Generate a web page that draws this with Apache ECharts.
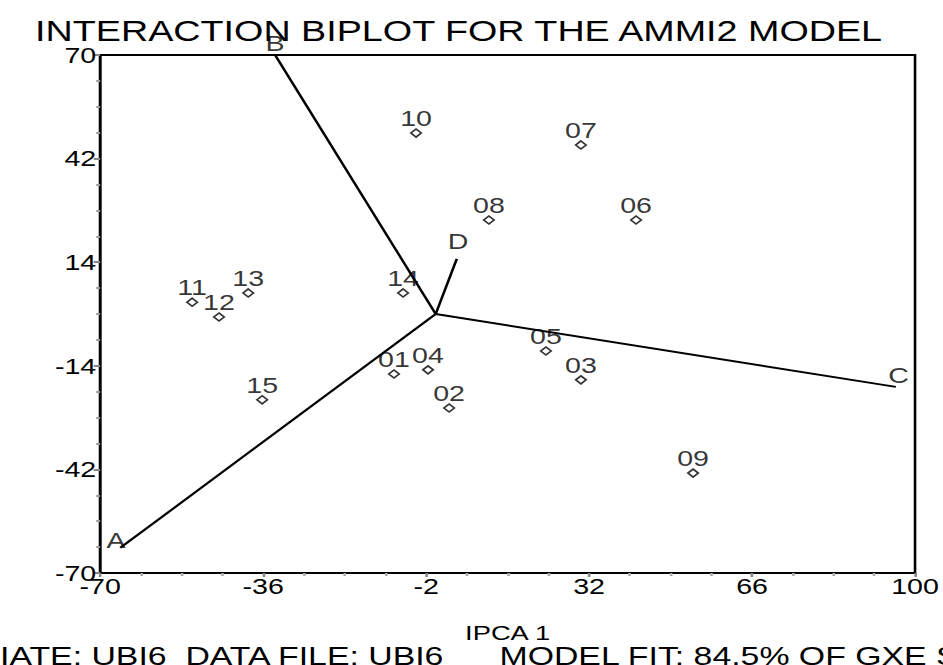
<!DOCTYPE html>
<html><head><meta charset="utf-8">
<script src="https://cdn.jsdelivr.net/npm/echarts@6/dist/echarts.min.js"></script>
<style>
html,body{margin:0;padding:0;background:#fff;overflow:hidden;width:943px;height:665px}
#c{width:725px;height:665px;transform:scaleX(1.30069);transform-origin:0 0}
</style>
</head><body><div id="c"></div>
<script>
// Genotypes (IPCA1, IPCA2)
const genoNames = ['01','02','03','04','05','06','07','08','09','10','11','12','13','14','15'];
const genoX = [-8.7, 2.8, 30.3, -1.6, 23.0, 41.8, 30.3, 11.1, 53.7, -4.1, -50.8, -45.2, -39.1, -6.8, -36.2];
const genoY = [-16.2, -25.4, -17.8, -15.1, -10.0, 25.4, 45.7, 25.4, -43.0, 48.9, 3.2, -0.8, 5.7, 5.7, -23.2];
// Environments (vector end points)
const envNames = ['A','B','C','D'];
const envX = [-65.8, -33.5, 96.0, 4.4];
const envY = [-63.2, 70.0, -19.7, 14.9];
// Axis ticks
const xTicks = [-70, -36, -2, 32, 66, 100];
const yTicks = [-70, -42, -14, 14, 42, 70];
// Texts
const titleText = 'INTERACTION BIPLOT FOR THE AMMI2 MODEL';
const xName = 'IPCA 1';
const footLeft = 'IATE: UBI6  DATA FILE: UBI6';
const footRight = 'MODEL FIT: 84.5% OF GXE S';

const FONT = 'Liberation Sans, Arial, sans-serif';
const envLabelPos = {A: ['left', [9, -8]], B: ['top', [0, 4]], C: ['top', [2, 4]], D: ['top', [1, -2]]};

const chart = echarts.init(document.getElementById('c'), null, {renderer: 'svg'});
const series = [];
envNames.forEach((n, i) => {
  series.push({
    type: 'line', data: [[0, 0], [envX[i], envY[i]]], symbol: 'none', silent: true,
    lineStyle: {color: '#000', width: 2}, z: 2, animation: false
  });
  series.push({
    type: 'scatter', data: [[envX[i], envY[i]]], symbolSize: 0, silent: true, animation: false,
    label: {show: true, formatter: n, position: envLabelPos[n][0], offset: envLabelPos[n][1],
      color: '#000', fontSize: 22, fontFamily: FONT}
  });
});
series.push({
  type: 'scatter', animation: false,
  data: genoNames.map((n, i) => ({name: n, value: [genoX[i], genoY[i]]})),
  symbol: 'diamond', symbolSize: [8, 8],
  itemStyle: {color: '#fff', borderColor: '#000', borderWidth: 1.5},
  label: {show: true, formatter: p => p.name, position: 'top', offset: [0, 6],
    color: '#000', fontSize: 22, fontFamily: FONT}, z: 3
});

chart.setOption({
  animation: false,
  grid: {left: 77, right: 21.5, top: 55, bottom: 92, show: true, borderColor: '#000', borderWidth: 2, backgroundColor: 'transparent'},
  xAxis: {
    type: 'value', min: xTicks[0], max: xTicks[xTicks.length - 1], interval: xTicks[1] - xTicks[0],
    name: xName, nameLocation: 'middle', nameGap: 49,
    nameTextStyle: {color: '#000', fontSize: 21, fontFamily: FONT},
    axisLine: {onZero: false, lineStyle: {color: '#000', width: 2}},
    axisTick: {show: true, inside: false, length: 4, lineStyle: {color: '#888', width: 2}},
    minorTick: {show: true, splitNumber: 4, length: 3, lineStyle: {color: '#aaa', width: 2}},
    axisLabel: {color: '#000', fontSize: 22, fontFamily: FONT, margin: 2, showMinLabel: true, showMaxLabel: true},
    splitLine: {show: false}
  },
  yAxis: {
    type: 'value', min: yTicks[0], max: yTicks[yTicks.length - 1], interval: yTicks[1] - yTicks[0],
    axisLine: {onZero: false, lineStyle: {color: '#000', width: 2}},
    axisTick: {show: true, length: 5, lineStyle: {color: '#888', width: 2}},
    minorTick: {show: true, splitNumber: 4, length: 3, lineStyle: {color: '#999', width: 2}},
    axisLabel: {color: '#000', fontSize: 22, fontFamily: FONT, margin: 3},
    splitLine: {show: false}
  },
  graphic: [
    {type: 'text', left: 27, top: 17, style: {text: titleText, fill: '#000', fontSize: 29, fontFamily: FONT}},
    {type: 'text', left: 0, top: 643, style: {text: footLeft, fill: '#000', fontSize: 26, fontFamily: FONT}},
    {type: 'text', left: 384, top: 643, style: {text: footRight, fill: '#000', fontSize: 26, fontFamily: FONT}}
  ],
  series: series
});
</script></body></html>
